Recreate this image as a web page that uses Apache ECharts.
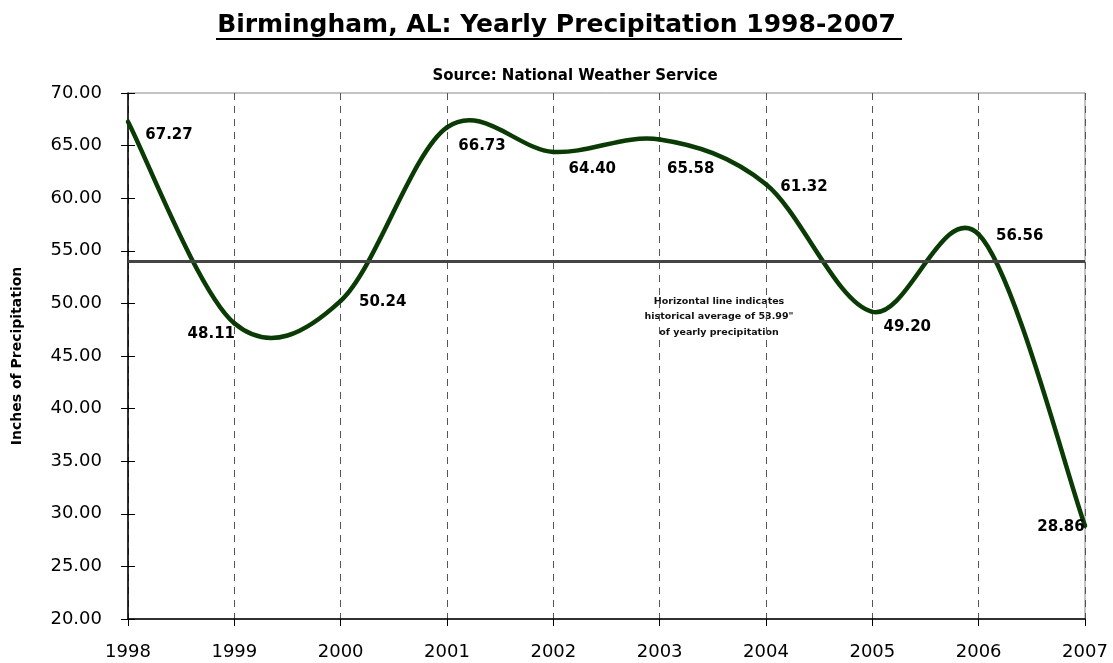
<!DOCTYPE html>
<html>
    <head>
        <meta charset="UTF-8">
        <title>Birmingham, AL: Yearly Precipitation</title>
        <script src="https://cdn.jsdelivr.net/npm/echarts@6/dist/echarts.min.js"></script>
    </head>
    <body style="margin:0;">
        <div id="chart" style="width:1113px; height:663px;"></div>
        <script>
            // data
            var years = ['1998','1999','2000','2001','2002','2003','2004','2005','2006','2007'];
            var precip = [67.27, 48.11, 50.24, 66.73, 64.40, 65.58, 61.32, 49.20, 56.56, 28.86];
            var historicalAvg = 53.99;
            var yTicks = {min: 20, max: 70, interval: 5};

            // where each value label sits relative to its point (px)
            var labelOffsets = [[41,13],[-23,11],[42,1],[35,19],[39,17],[31,30],[38,3],[35,15],[41,2],[-24,1]];

            var font = 'DejaVu Sans';
            var lineColor = '#0b3b05';
            var chart = echarts.init(document.getElementById('chart'));

            // Excel-style smoothed line: one bezier per segment, control points at 1/6
            function renderSegment(params, api){
                var i = params.dataIndex;
                var n = precip.length;
                if (i >= n - 1) return null;
                function pt(j){
                    j = Math.max(0, Math.min(n - 1, j));
                    return api.coord([j, precip[j]]);
                }
                var p0 = pt(i - 1), p1 = pt(i), p2 = pt(i + 1), p3 = pt(i + 2);
                return {
                    type: 'bezierCurve',
                    shape: {
                        x1: p1[0], y1: p1[1],
                        x2: p2[0], y2: p2[1],
                        cpx1: p1[0] + (p2[0] - p0[0]) / 6, cpy1: p1[1] + (p2[1] - p0[1]) / 6,
                        cpx2: p2[0] - (p3[0] - p1[0]) / 6, cpy2: p2[1] - (p3[1] - p1[1]) / 6
                    },
                    style: {stroke: lineColor, lineWidth: 4.5, fill: null, lineCap: 'round'}
                };
            }

            var labelData = precip.map(function(v, i){
                return {
                    value: [years[i], v],
                    label: {offset: labelOffsets[i]}
                };
            });

            var option = {
                animation: false,
                backgroundColor: '#fff',
                title: [{
                    text: 'Birmingham, AL: Yearly Precipitation 1998-2007',
                    left: 'center',
                    top: 8,
                    textStyle: {fontFamily: font, fontWeight: 'bold', fontSize: 25, color: '#000'}
                },{
                    text: 'Source: National Weather Service',
                    left: 570,
                    top: 64,
                    textAlign: 'center',
                    textStyle: {fontFamily: font, fontWeight: 'bold', fontSize: 15, color: '#000'}
                }],
                graphic: [{
                    // underline under the title
                    type: 'rect',
                    shape: {x: 216, y: 38, width: 686, height: 2},
                    style: {fill: '#000'}
                },{
                    type: 'text',
                    x: 719, y: 317,
                    style: {
                        text: 'Horizontal line indicates\nhistorical average of 53.99"\nof yearly precipitation',
                        font: 'bold 9.5px "DejaVu Sans"',
                        fill: '#111',
                        align: 'center',
                        verticalAlign: 'middle',
                        lineHeight: 15.5
                    }
                }],
                grid: {
                    left: 128, right: 28, top: 93, bottom: 44,
                    show: true,
                    borderColor: '#888',
                    borderWidth: 1
                },
                xAxis: {
                    type: 'category',
                    data: years,
                    boundaryGap: false,
                    axisLine: {lineStyle: {color: '#000', width: 1.5}},
                    axisTick: {show: true, length: 7, lineStyle: {color: '#000'}},
                    axisLabel: {fontFamily: font, fontSize: 18, color: '#000', margin: 24},
                    splitLine: {show: true, lineStyle: {color: '#555', type: [7, 6], width: 1}}
                },
                yAxis: [{
                    type: 'value',
                    min: yTicks.min, max: yTicks.max, interval: yTicks.interval,
                    name: 'Inches of Precipitation',
                    nameLocation: 'middle',
                    nameGap: 104,
                    nameTextStyle: {fontFamily: font, fontWeight: 'bold', fontSize: 14, color: '#000'},
                    axisLine: {show: true, lineStyle: {color: '#000', width: 1.5}},
                    axisTick: {show: true, length: 7, lineStyle: {color: '#000'}},
                    axisLabel: {fontFamily: font, fontSize: 18, color: '#000', margin: 26,
                        formatter: function(v){ return v.toFixed(2); }},
                    splitLine: {show: false}
                },{
                    // second axis only for the inner half of the ticks
                    type: 'value',
                    position: 'left',
                    min: yTicks.min, max: yTicks.max, interval: yTicks.interval,
                    axisLine: {show: false},
                    axisTick: {show: true, inside: true, length: 7, lineStyle: {color: '#000'}},
                    axisLabel: {show: false},
                    splitLine: {show: false}
                }],
                series: [{
                    name: 'Precipitation',
                    type: 'custom',
                    renderItem: renderSegment,
                    data: precip.map(function(v, i){ return [years[i], v]; }),
                    encode: {x: 0, y: 1},
                    clip: false,
                    z: 3
                },{
                    name: 'Labels',
                    type: 'scatter',
                    data: labelData,
                    symbolSize: 1,
                    itemStyle: {color: 'rgba(0,0,0,0)', opacity: 1},
                    label: {
                        show: true,
                        position: 'inside',
                        fontFamily: font,
                        fontWeight: 'bold',
                        fontSize: 15,
                        color: '#000',
                        opacity: 1,
                        formatter: function(p){ return p.value[1].toFixed(2); }
                    },
                    markLine: {
                        silent: true,
                        symbol: 'none',
                        label: {show: false},
                        lineStyle: {color: '#444', type: 'solid', width: 3, opacity: 1},
                        data: [{yAxis: historicalAvg}]
                    },
                    z: 4
                }]
            };
            chart.setOption(option);
        </script>
    </body>
</html>
